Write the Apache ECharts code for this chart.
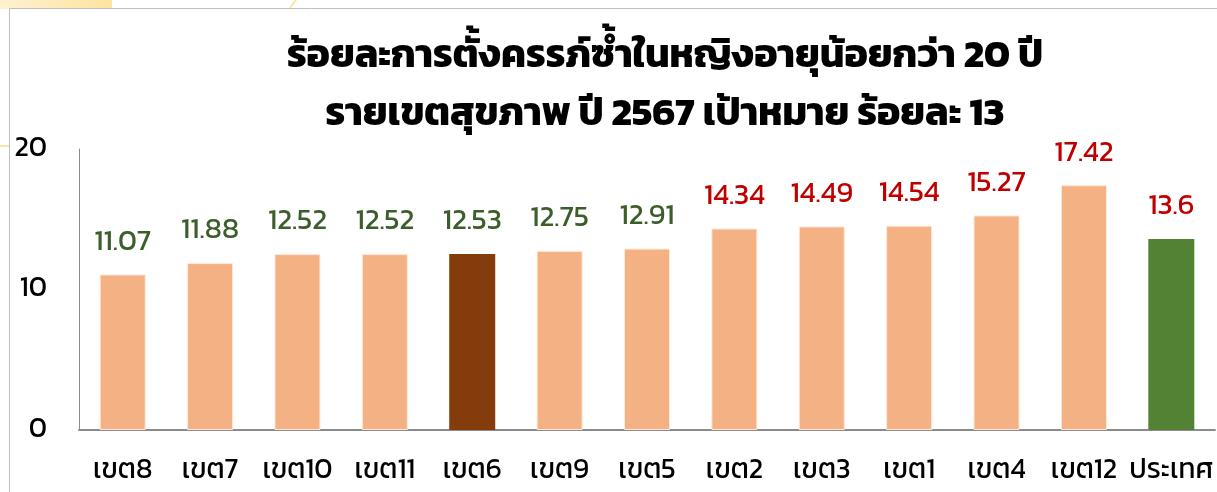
<!DOCTYPE html>
<html>
<head>
<meta charset="utf-8">
<script src="https://cdn.jsdelivr.net/npm/echarts@6/dist/echarts.min.js"></script>
<style>
  html, body { margin: 0; padding: 0; background: #fff; }
  #chart { width: 1217px; height: 492px; }
</style>
</head>
<body>
<div id="chart"></div>
<script>
// data
const categories = ['เขต8', 'เขต7', 'เขต10', 'เขต11', 'เขต6', 'เขต9', 'เขต5', 'เขต2', 'เขต3', 'เขต1', 'เขต4', 'เขต12', 'ประเทศ'];
const values = [11.07, 11.88, 12.52, 12.52, 12.53, 12.75, 12.91, 14.34, 14.49, 14.54, 15.27, 17.42, 13.6];
const target = 13;
const highlight = 'เขต6';
const national = 'ประเทศ';

const FONT = 'Kanit, Prompt, "Noto Sans Thai", "Noto Sans", sans-serif';

function barColor(cat) {
  if (cat === highlight) return '#843C0C';
  if (cat === national) return '#548235';
  return '#F4B183';
}
function labelColor(v) {
  return v > target ? '#C00000' : '#3B5E2B';
}

const chart = echarts.init(document.getElementById('chart'));

chart.setOption({
  animation: false,
  backgroundColor: '#fff',
  title: {
    text: 'ร้อยละการตั้งครรภ์ซ้ำในหญิงอายุน้อยกว่า 20 ปี\nรายเขตสุขภาพ ปี 2567 เป้าหมาย ร้อยละ 13',
    left: 660,
    textAlign: 'center',
    top: 24,
    textStyle: { fontFamily: FONT, fontSize: 39, fontWeight: 'bold', color: '#000', lineHeight: 58 }
  },
  graphic: [
    // faint yellow decoration peeking out behind the frame
    { type: 'rect', z: -10, shape: { x: 0, y: 0, width: 112, height: 9 },
      style: { fill: new echarts.graphic.LinearGradient(0, 0, 1, 0, [
        { offset: 0, color: '#FFF1D0' }, { offset: 1, color: '#FDE3A0' }]) } },
    { type: 'line', z: -10, shape: { x1: 296, y1: 0, x2: 290, y2: 8 }, style: { stroke: '#FCE3A6', lineWidth: 2 } },
    { type: 'line', z: -10, shape: { x1: 0, y1: 146, x2: 9, y2: 146 }, style: { stroke: '#FCE3A6', lineWidth: 2 } },
    // frame
    { type: 'rect', z: -5, shape: { x: 9.5, y: 8.5, width: 1300, height: 600 },
      style: { fill: '#fff', stroke: '#BFBFBF', lineWidth: 1 } }
  ],
  grid: { left: 79, right: 2, top: 149, bottom: 62, containLabel: false },
  xAxis: {
    type: 'category',
    data: categories,
    axisLine: { lineStyle: { color: '#8C8C8C', width: 2 } },
    axisTick: { show: false },
    axisLabel: { fontFamily: FONT, fontSize: 28, color: '#000', margin: 27, interval: 0 }
  },
  yAxis: {
    type: 'value',
    min: 0,
    max: 20,
    interval: 10,
    splitLine: { show: false },
    axisLine: { show: true, lineStyle: { color: '#8C8C8C', width: 1 } },
    axisTick: { show: false },
    axisLabel: { fontFamily: FONT, fontSize: 28, color: '#000', margin: 32 }
  },
  series: [{
    type: 'bar',
    barWidth: 46,
    data: values.map((v, i) => ({
      value: v,
      itemStyle: { color: barColor(categories[i]), borderColor: '#FDE9D9', borderWidth: categories[i] === highlight || categories[i] === national ? 0 : 1 },
      label: { color: labelColor(v) }
    })),
    label: {
      show: true,
      position: 'top',
      distance: 17,
      fontFamily: FONT,
      fontSize: 29,
      formatter: (p) => String(p.value)
    }
  }]
});
</script>
</body>
</html>
